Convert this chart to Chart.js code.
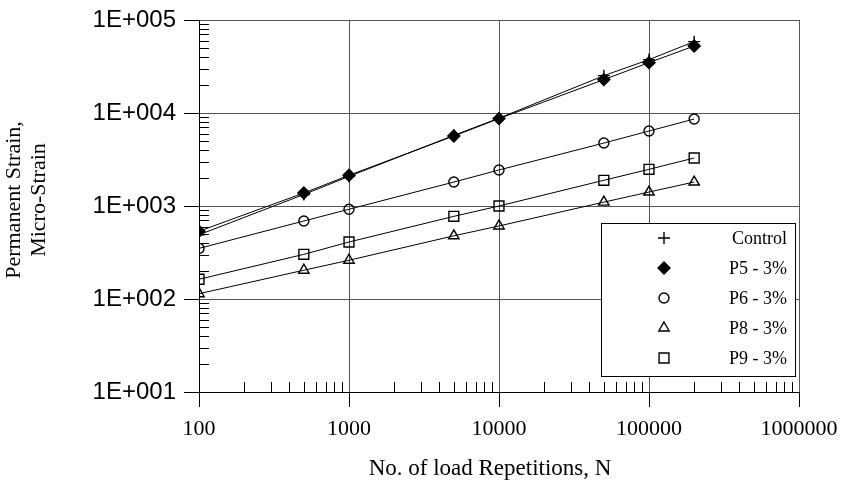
<!DOCTYPE html>
<html><head><meta charset="utf-8">
<script src="https://cdn.jsdelivr.net/npm/chart.js@4"></script>
<style>html,body{margin:0;padding:0;background:#fff}canvas{display:block}</style>
</head><body>
<canvas id="c" width="843" height="482"></canvas>
<script>
// ---- data ----
const loadRepetitions = [100, 500, 1000, 5000, 10000, 50000, 100000, 200000];
const controlStrain = [490, 1330, 2080, 5750, 8800, 25200, 37500, 58500];
const p5Strain      = [535, 1380, 2140, 5660, 8700, 22850, 34800, 52500];
const p6Strain      = [350, 690, 922, 1810, 2440, 4750, 6400, 8610];
const p8Strain      = [114, 204, 261, 478, 610, 1100, 1413, 1810];
const p9Strain      = [163, 302, 410, 774, 1000, 1890, 2480, 3280];
const seriesNames = ['Control', 'P5 - 3%', 'P6 - 3%', 'P8 - 3%', 'P9 - 3%'];
const xTickValues = [100, 1000, 10000, 100000, 1000000];
const xTickLabels = ['100', '1000', '10000', '100000', '1000000'];
const yTickValues = [10, 100, 1000, 10000, 100000];
const yTickLabels = ['1E+001', '1E+002', '1E+003', '1E+004', '1E+005'];
const xTitle = 'No. of load Repetitions, N';
const yTitleLines = ['Permanent Strain,', 'Micro-Strain'];

function decadeTicks(values) {
  const out = [];
  values.forEach((v, i) => {
    out.push({ value: v, major: true });
    if (i < values.length - 1) for (let k = 2; k <= 9; k++) out.push({ value: v * k, major: false });
  });
  return out;
}
function pts(ys) { return loadRepetitions.map((x, i) => ({ x: x, y: ys[i] })); }

const styles = [
  { pointStyle: 'cross', pointRadius: 6, pointBackgroundColor: '#000' },
  { pointStyle: 'rectRot', pointRadius: 6, pointBackgroundColor: '#000' },
  { pointStyle: 'circle', pointRadius: 5, pointBackgroundColor: 'rgba(0,0,0,0)' },
  { pointStyle: 'triangle', pointRadius: 6, pointBackgroundColor: 'rgba(0,0,0,0)' },
  { pointStyle: 'rect', pointRadius: 7, pointBackgroundColor: 'rgba(0,0,0,0)' }
];
const seriesData = [controlStrain, p5Strain, p6Strain, p8Strain, p9Strain];
const datasets = seriesData.map((d, i) => Object.assign({
  label: seriesNames[i],
  data: pts(d),
  borderColor: '#000',
  borderWidth: 1,
  pointBorderColor: '#000',
  pointBorderWidth: 1.4,
  tension: 0,
  fill: false
}, styles[i]));

const gridColor = c => (c.tick && c.tick.major) ? '#555' : 'rgba(0,0,0,0)';
const tickColor = c => (c.tick && c.tick.major) ? '#000' : 'rgba(0,0,0,0)';

const extras = {
  id: 'extras',
  afterDatasetsDraw(chart) {
    const ctx = chart.ctx;
    const xs = chart.scales.x, ys = chart.scales.y;
    const a = chart.chartArea;
    ctx.save();
    ctx.strokeStyle = '#000';
    ctx.lineWidth = 1;
    ctx.beginPath();
    ys.ticks.forEach(t => {
      if (t.major) return;
      const p = Math.round(ys.getPixelForValue(t.value)) + 0.5;
      ctx.moveTo(a.left, p); ctx.lineTo(a.left + 10, p);
    });
    xs.ticks.forEach(t => {
      if (t.major) return;
      const p = Math.round(xs.getPixelForValue(t.value)) + 0.5;
      ctx.moveTo(p, a.bottom); ctx.lineTo(p, a.bottom - 10);
    });
    ctx.stroke();
    ctx.restore();
  },
  afterDraw(chart) {
    const ctx = chart.ctx;
    ctx.save();
    // legend box
    ctx.fillStyle = '#fff';
    ctx.strokeStyle = '#000';
    ctx.lineWidth = 1;
    ctx.fillRect(601.5, 223.5, 194, 153);
    ctx.strokeRect(601.5, 223.5, 194, 153);
    chart.data.datasets.forEach((ds, i) => {
      const y = 238 + i * 30;
      ctx.fillStyle = ds.pointBackgroundColor;
      ctx.strokeStyle = '#000';
      ctx.lineWidth = ds.pointBorderWidth;
      Chart.helpers.drawPoint(ctx, { pointStyle: ds.pointStyle, radius: ds.pointRadius, borderWidth: ds.pointBorderWidth, rotation: 0 }, 664, y);
      ctx.fillStyle = '#000';
      ctx.font = '18px "Liberation Serif"';
      ctx.textAlign = 'right';
      ctx.textBaseline = 'alphabetic';
      ctx.fillText(ds.label, 787, y + 6);
    });
    // axis titles
    ctx.fillStyle = '#000';
    ctx.font = '23px "Liberation Serif"';
    ctx.textAlign = 'center';
    ctx.textBaseline = 'alphabetic';
    ctx.fillText(xTitle, 490, 475);
    ctx.font = '22px "Liberation Serif"';
    ctx.textBaseline = 'middle';
    [14, 39].forEach((x, i) => {
      ctx.save();
      ctx.translate(x, 200);
      ctx.rotate(-Math.PI / 2);
      ctx.fillText(yTitleLines[i], 0, 0);
      ctx.restore();
    });
    ctx.restore();
  }
};

new Chart(document.getElementById('c'), {
  type: 'line',
  data: { datasets: datasets },
  plugins: [extras],
  options: {
    animation: false,
    responsive: false,
    devicePixelRatio: 1,
    layout: { padding: { left: 0, right: 44, top: 20, bottom: 0 } },
    plugins: { legend: { display: false }, tooltip: { enabled: false } },
    scales: {
      x: {
        type: 'logarithmic', min: 100, max: 1000000, position: 'bottom',
        afterBuildTicks: s => { s.ticks = decadeTicks(xTickValues); },
        afterFit: s => { s.height = 90; s.paddingLeft = 0; s.paddingRight = 0; },
        ticks: {
          autoSkip: false, maxRotation: 0, minRotation: 0, padding: 9, color: '#000',
          font: { family: 'Liberation Serif', size: 22 },
          callback: v => { const i = xTickValues.indexOf(v); return i >= 0 ? xTickLabels[i] : ''; }
        },
        grid: { color: gridColor, tickColor: tickColor, tickLength: 15, lineWidth: 1 },
        border: { color: '#000', width: 1 }
      },
      y: {
        type: 'logarithmic', min: 10, max: 100000, position: 'left',
        afterBuildTicks: s => { s.ticks = decadeTicks(yTickValues); },
        afterFit: s => { s.width = 199; s.paddingTop = 0; s.paddingBottom = 0; },
        ticks: {
          autoSkip: false, padding: 8, color: '#000',
          font: { family: 'Liberation Sans', size: 24 },
          callback: v => { const i = yTickValues.indexOf(v); return i >= 0 ? yTickLabels[i] : ''; }
        },
        grid: { color: gridColor, tickColor: tickColor, tickLength: 15, lineWidth: 1 },
        border: { color: '#000', width: 1 }
      }
    }
  }
});
</script>
</body></html>
